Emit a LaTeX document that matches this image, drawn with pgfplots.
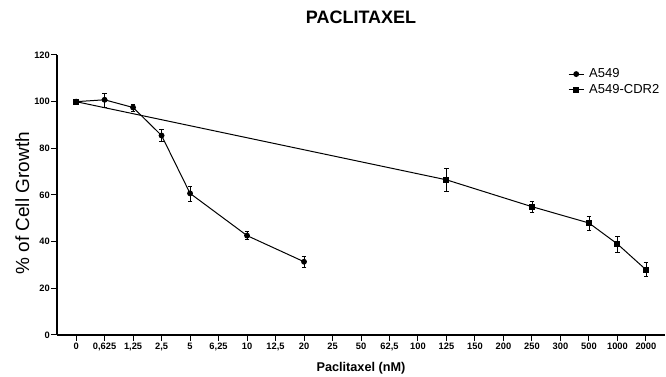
\documentclass[border=0pt]{standalone}
\usepackage{pgfplots}
\pgfplotsset{compat=1.18}
\usepackage{fontspec}
\setmainfont{Liberation Sans}
\begin{document}
\begin{tikzpicture}[x=1pt,y=1pt]
\path[use as bounding box] (-57,-42) rectangle (609,335);
\begin{axis}[
  at={(0,0)}, anchor=south west,
  scale only axis, width=608pt, height=280pt,
  xmin=-0.67, xmax=20.67, ymin=0, ymax=120,
  axis lines=left, axis line style={line width=1.2pt,-},
  xtick={0,...,20},
  xticklabels={0,{0,625},{1,25},{2,5},5,{6,25},10,{12,5},20,25,50,{62,5},100,125,150,200,250,300,500,1000,2000},
  ytick={0,20,...,120},
  tick align=outside, major tick length=6pt,
  tick style={line width=1pt,black},
  tick label style={font=\bfseries\fontsize{9.3}{10}\selectfont, inner sep=0pt},
  /pgf/number format/assume math mode=true,
  xticklabel style={anchor=north, yshift=-1.5pt},
  yticklabel style={anchor=east, xshift=-1pt},
  xlabel={\bfseries\fontsize{12.7}{14}\selectfont Paclitaxel (nM)},
  xlabel style={at={(axis description cs:0.5,0)}, anchor=base, yshift=-36.5pt, inner sep=0pt},
  ylabel={\fontsize{19}{21}\selectfont \% of Cell Growth},
  ylabel style={at={(axis description cs:-0.057,0.47)}, anchor=center, inner sep=0pt},
  title={\bfseries\fontsize{18}{20}\selectfont PACLITAXEL},
  title style={at={(axis description cs:0.5,1)}, anchor=base, yshift=25pt, inner sep=0pt},
  legend style={draw=none, fill=none, at={(axis description cs:0.8405,0.955)}, anchor=north west,
    font=\fontsize{13}{14}\selectfont, row sep=3pt, inner sep=0pt, nodes={inner sep=1pt},
    /tikz/every odd column/.append style={column sep=4pt}},
  legend cell align=left,
  legend image code/.code={\draw[#1,line width=1pt] (0pt,0pt) -- (15pt,0pt); \draw[#1,mark repeat=1] plot coordinates {(7.5pt,0pt)};},
  clip=false,
]
\addplot[black, line width=1pt, mark=*, mark size=2.4pt,
  error bars/.cd, y dir=both, y explicit,
  error bar style={line width=0.5pt}, error mark options={rotate=90, mark size=2.3pt, line width=0.5pt}]
  coordinates {
  (0,100) +- (0,0)
  (1,100.8) +- (0,3)
  (2,97.5) +- (0,1.5)
  (3,85.5) +- (0,2.6)
  (4,60.7) +- (0,3.2)
  (6,42.6) +- (0,1.7)
  (8,31.4) +- (0,2.5)
  };
\addlegendentry{A549}
\addplot[black, line width=1pt, mark=square*, mark size=2.5pt,
  error bars/.cd, y dir=both, y explicit,
  error bar style={line width=0.5pt}, error mark options={rotate=90, mark size=2.3pt, line width=0.5pt}]
  coordinates {
  (0,100) +- (0,0)
  (13,66.5) +- (0,5)
  (16,55) +- (0,2.2)
  (18,48) +- (0,3)
  (19,39) +- (0,3.5)
  (20,28) +- (0,3)
  };
\addlegendentry{A549-CDR2}
\end{axis}
\end{tikzpicture}
\end{document}
